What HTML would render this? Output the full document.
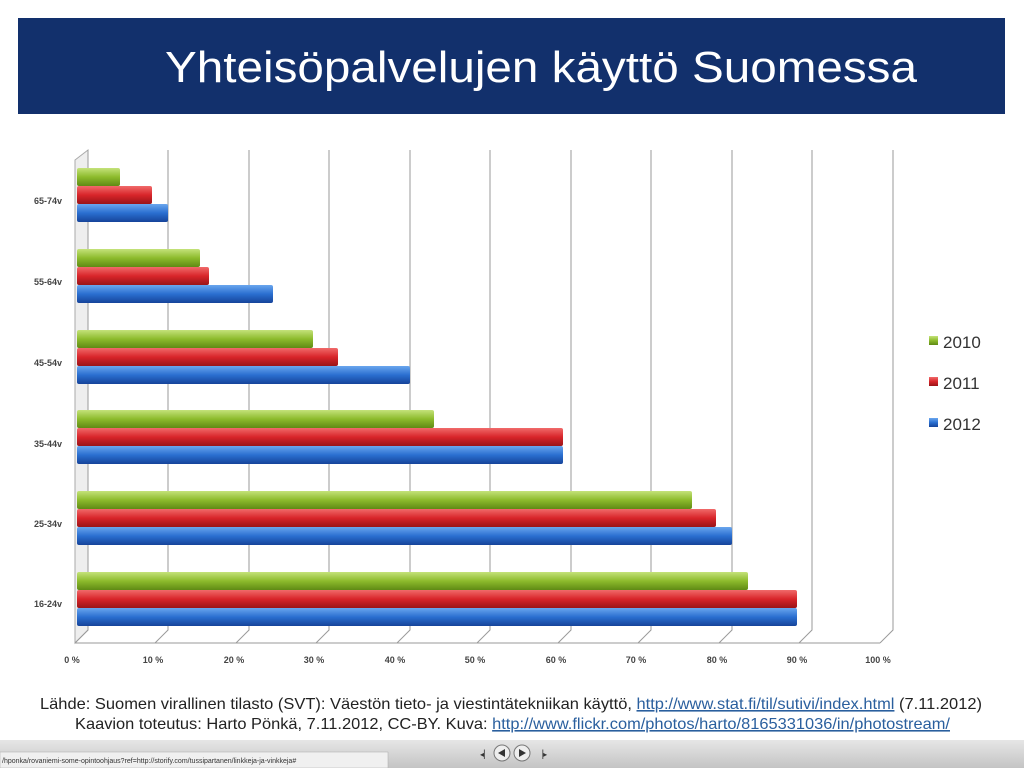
<!DOCTYPE html>
<html><head><meta charset="utf-8"><style>
body{margin:0;width:1024px;height:768px;background:#fff;overflow:hidden;font-family:"Liberation Sans",sans-serif}
</style></head><body>
<svg width="1024" height="768" xmlns="http://www.w3.org/2000/svg" font-family="Liberation Sans, sans-serif">
<defs>
<linearGradient id="g" x1="0" y1="0" x2="0" y2="1"><stop offset="0" stop-color="#c4e27a"/><stop offset=".5" stop-color="#8dbb2c"/><stop offset="1" stop-color="#5f8a14"/></linearGradient>
<linearGradient id="r" x1="0" y1="0" x2="0" y2="1"><stop offset="0" stop-color="#f06a6a"/><stop offset=".5" stop-color="#d8252a"/><stop offset="1" stop-color="#9a1418"/></linearGradient>
<linearGradient id="b" x1="0" y1="0" x2="0" y2="1"><stop offset="0" stop-color="#6aa6ee"/><stop offset=".5" stop-color="#2a6fd0"/><stop offset="1" stop-color="#16449a"/></linearGradient>
</defs>
<rect x="18" y="18" width="987" height="96" fill="#12306c"/>
<text x="541" y="82" font-size="44" fill="#fff" text-anchor="middle" textLength="752" lengthAdjust="spacingAndGlyphs">Yhteisöpalvelujen käyttö Suomessa</text>
<polygon points="75,160 88,150 88,630 75,643" fill="#eeeeee" stroke="#aaa" stroke-width="1"/>
<g stroke="#9a9a9a" stroke-width="1" fill="none">
<path d="M88,150 V630 L75,643"/>
<path d="M168,150 V630 L155,643"/>
<path d="M249,150 V630 L236,643"/>
<path d="M329,150 V630 L316,643"/>
<path d="M410,150 V630 L397,643"/>
<path d="M490,150 V630 L477,643"/>
<path d="M571,150 V630 L558,643"/>
<path d="M651,150 V630 L638,643"/>
<path d="M732,150 V630 L719,643"/>
<path d="M812,150 V630 L799,643"/>
<path d="M893,150 V630 L880,643"/>
<path d="M75,643 H880"/>
</g>
<g font-size="9" fill="#444" text-anchor="middle" font-weight="bold">
<text x="72" y="663">0 %</text><text x="153" y="663">10 %</text><text x="234" y="663">20 %</text><text x="314" y="663">30 %</text><text x="395" y="663">40 %</text><text x="475" y="663">50 %</text><text x="556" y="663">60 %</text><text x="636" y="663">70 %</text><text x="717" y="663">80 %</text><text x="797" y="663">90 %</text><text x="878" y="663">100 %</text>
</g>
<g font-size="9" fill="#444" text-anchor="end" font-weight="bold">
<text x="62" y="204">65-74v</text><text x="62" y="285">55-64v</text><text x="62" y="366">45-54v</text><text x="62" y="447">35-44v</text><text x="62" y="527">25-34v</text><text x="62" y="607">16-24v</text>
</g>
<g>
<rect x="77" y="168" width="43" height="18" rx="2" fill="url(#g)"/>
<rect x="77" y="186" width="75" height="18" rx="2" fill="url(#r)"/>
<rect x="77" y="204" width="91" height="18" rx="2" fill="url(#b)"/>
<rect x="77" y="249" width="123" height="18" rx="2" fill="url(#g)"/>
<rect x="77" y="267" width="132" height="18" rx="2" fill="url(#r)"/>
<rect x="77" y="285" width="196" height="18" rx="2" fill="url(#b)"/>
<rect x="77" y="330" width="236" height="18" rx="2" fill="url(#g)"/>
<rect x="77" y="348" width="261" height="18" rx="2" fill="url(#r)"/>
<rect x="77" y="366" width="333" height="18" rx="2" fill="url(#b)"/>
<rect x="77" y="410" width="357" height="18" rx="2" fill="url(#g)"/>
<rect x="77" y="428" width="486" height="18" rx="2" fill="url(#r)"/>
<rect x="77" y="446" width="486" height="18" rx="2" fill="url(#b)"/>
<rect x="77" y="491" width="615" height="18" rx="2" fill="url(#g)"/>
<rect x="77" y="509" width="639" height="18" rx="2" fill="url(#r)"/>
<rect x="77" y="527" width="655" height="18" rx="2" fill="url(#b)"/>
<rect x="77" y="572" width="671" height="18" rx="2" fill="url(#g)"/>
<rect x="77" y="590" width="720" height="18" rx="2" fill="url(#r)"/>
<rect x="77" y="608" width="720" height="18" rx="2" fill="url(#b)"/>
</g>
<g font-size="17" fill="#333">
<rect x="929" y="336" width="9" height="9" fill="url(#g)"/><text x="943" y="348">2010</text>
<rect x="929" y="377" width="9" height="9" fill="url(#r)"/><text x="943" y="389">2011</text>
<rect x="929" y="418" width="9" height="9" fill="url(#b)"/><text x="943" y="430">2012</text>
</g>
<g font-size="16" fill="#222">
<text x="40" y="709" textLength="942" lengthAdjust="spacingAndGlyphs">Lähde: Suomen virallinen tilasto (SVT): Väestön tieto- ja viestintätekniikan käyttö, <tspan fill="#2a5f9e" text-decoration="underline">http://www.stat.fi/til/sutivi/index.html</tspan> (7.11.2012)</text>
<text x="75" y="729" textLength="875" lengthAdjust="spacingAndGlyphs">Kaavion toteutus: Harto Pönkä, 7.11.2012, CC-BY. Kuva: <tspan fill="#2a5f9e" text-decoration="underline">http://www.flickr.com/photos/harto/8165331036/in/photostream/</tspan></text>
</g>
<defs><linearGradient id="bot" x1="0" y1="0" x2="0" y2="1"><stop offset="0" stop-color="#e6e6e6"/><stop offset="1" stop-color="#c4c4c4"/></linearGradient></defs>
<rect x="0" y="740" width="1024" height="28" fill="url(#bot)"/>
<rect x="0" y="752" width="388" height="16" fill="#f0f0f0" stroke="#aaa" stroke-width="0.5"/>
<text x="2" y="763" font-size="7" fill="#333">/hponka/rovaniemi-some-opintoohjaus?ref=http://storify.com/tussipartanen/linkkeja-ja-vinkkeja#</text>
<g fill="#333">
<text x="480" y="757" font-size="8">◂▏</text>
<circle cx="502" cy="753" r="8" fill="#eee" stroke="#777"/><polygon points="505,749 498,753 505,757"/>
<circle cx="522" cy="753" r="8" fill="#eee" stroke="#777"/><polygon points="519,749 526,753 519,757"/>
<text x="537" y="757" font-size="8">▕▸</text>
</g>
</svg>
</body></html>
